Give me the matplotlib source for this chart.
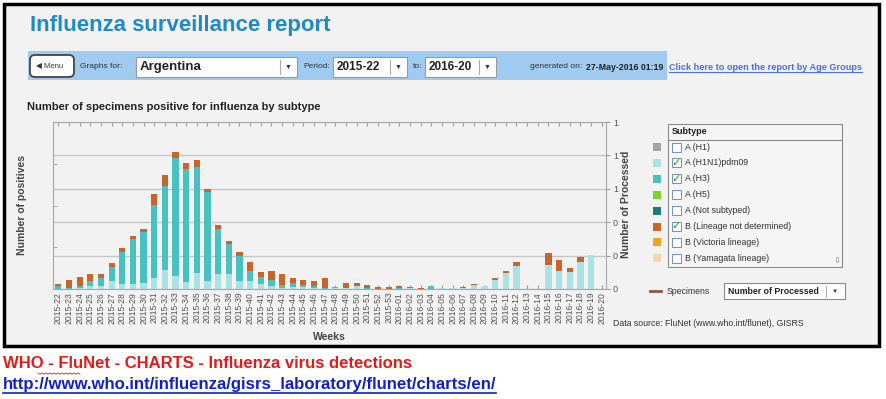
import numpy as np
import matplotlib.pyplot as plt
from matplotlib.patches import Rectangle, FancyBboxPatch
from matplotlib.ticker import FixedLocator
from matplotlib import font_manager

# weekly counts, in units of the chart's gridline spacing (axis numbers are cut off)
weeks = ['2015-%02d' % w for w in range(22, 54)] + ['2016-%02d' % w for w in range(1, 21)]
h1n1pdm09 = [0.01, 0.00, 0.03, 0.08, 0.08, 0.25, 0.15, 0.15, 0.17, 0.33,
             0.58, 0.40, 0.20, 0.47, 0.25, 0.45, 0.45, 0.25, 0.25, 0.15,
             0.10, 0.03, 0.07, 0.06, 0.03, 0.00, 0.02, 0.02, 0.08, 0.00,
             0.00, 0.00, 0.00, 0.02, 0.00, 0.00, 0.02, 0.03, 0.02, 0.11,
             0.10, 0.26, 0.47, 0.70, 0.00, 0.00, 0.73, 0.55, 0.52, 0.80,
             1.02, 0.00]
h3 = [0.07, 0.03, 0.07, 0.17, 0.25, 0.42, 0.97, 1.35, 1.55, 2.19,
      2.50, 3.52, 3.38, 3.18, 2.65, 1.35, 0.89, 0.73, 0.28, 0.22,
      0.17, 0.09, 0.10, 0.07, 0.05, 0.02, 0.03, 0.01, 0.00, 0.02,
      0.01, 0.01, 0.02, 0.00, 0.00, 0.10, 0.00, 0.00, 0.00, 0.00,
      0.00, 0.00, 0.00, 0.00, 0.00, 0.00, 0.00, 0.00, 0.00, 0.00,
      0.00, 0.00]
b_not_determined = [0.07, 0.24, 0.27, 0.20, 0.12, 0.10, 0.10, 0.08, 0.08, 0.33,
                    0.32, 0.18, 0.18, 0.20, 0.08, 0.12, 0.11, 0.12, 0.27, 0.13,
                    0.28, 0.33, 0.16, 0.15, 0.15, 0.30, 0.02, 0.15, 0.10, 0.10,
                    0.05, 0.05, 0.08, 0.03, 0.03, 0.00, 0.00, 0.00, 0.03, 0.04,
                    0.00, 0.06, 0.08, 0.12, 0.00, 0.00, 0.35, 0.32, 0.11, 0.15,
                    0.00, 0.00]
right_tick_labels = ['0', '0', '0', '1', '1', '1']

subtypes = ['A (H1)', 'A (H1N1)pdm09', 'A (H3)', 'A (H5)', 'A (Not subtyped)',
            'B (Lineage not determined)', 'B (Victoria lineage)', 'B (Yamagata lineage)']
subtype_colors = ['#a3a3a3', '#a9e2e2', '#47c2c0', '#7fd12c', '#1d7b7b',
                  '#c8652b', '#f0a11f', '#f4d6ad']
checked = [False, True, True, False, False, True, False, False]

names = [f.name for f in font_manager.fontManager.ttflist]
narrow = 'Liberation Sans Narrow' if 'Liberation Sans Narrow' in names else 'Liberation Sans'
plt.rcParams['font.family'] = ['Liberation Sans', 'DejaVu Sans']

W, H = 887, 399
fig = plt.figure(figsize=(W / 100, H / 100), dpi=100)
fig.patch.set_facecolor('white')

# overlay in pixel coordinates for the page decoration
ov = fig.add_axes([0, 0, 1, 1], zorder=0)
ov.set_xlim(0, W)
ov.set_ylim(H, 0)
ov.axis('off')

ov.add_patch(Rectangle((4, 4), 875, 342, fc='#f2f2f2', ec='black', lw=2.5))
ov.text(30, 25, 'Influenza surveillance report', fontsize=16, fontweight='bold',
        color='#1f8ac6', va='center', family=[narrow, 'DejaVu Sans'])

# toolbar
ov.add_patch(Rectangle((28, 51), 639, 29, fc='#9fcbf0', ec='none'))
ov.add_patch(FancyBboxPatch((30, 55), 44, 22, boxstyle='round,pad=0,rounding_size=5',
                            fc='white', ec='#444444', lw=1.3))
ov.text(36, 66.5, '◀ Menu', fontsize=5.5, color='#333333', va='center')
ov.text(80, 66.5, 'Graphs for:', fontsize=6, color='#333333', va='center')


def dropdown(x0, x1, label, size):
    ov.add_patch(Rectangle((x0, 57), x1 - x0, 20, fc='white', ec='#9a9a9a', lw=0.8))
    ov.plot([x1 - 17, x1 - 17], [60, 74], color='#aaaaaa', lw=0.8)
    ov.text(x1 - 8.5, 67, '▼', fontsize=5, ha='center', va='center', color='#333333')
    ov.text(x0 + 4, 67, label, fontsize=size, fontweight='bold', va='center', color='#222222')


dropdown(136, 297, 'Argentina', 9.5)
ov.text(303, 66.5, 'Period:', fontsize=6, color='#333333', va='center')
dropdown(333, 407, '2015-22', 8.5)
ov.text(413, 66.5, 'to:', fontsize=6, color='#333333', va='center')
dropdown(425, 496, '2016-20', 8.5)
ov.text(530, 67, 'generated on:', fontsize=6, color='#333333', va='center')
ov.text(586, 67, '27-May-2016 01:19', fontsize=6.3, fontweight='bold', color='#222222', va='center')
link = ov.text(669, 67, 'Click here to open the report by Age Groups', fontsize=6.6,
               fontweight='bold', color='#4a6ee0', va='center')

ov.text(27, 107, 'Number of specimens positive for influenza by subtype', fontsize=8,
        fontweight='bold', color='#222222', va='center')
ov.text(22, 205, 'Number of positives', fontsize=7.5, fontweight='bold', color='#444444',
        rotation=90, ha='center', va='center')
ov.text(626, 204, 'Number of Processed', fontsize=7.5, fontweight='bold', color='#444444',
        rotation=90, ha='center', va='center')
ov.text(329, 337, 'Weeks', fontsize=7.5, fontweight='bold', color='#444444', ha='center', va='center')
ov.text(613, 324, 'Data source: FluNet (www.who.int/flunet), GISRS', fontsize=6.3,
        color='#333333', va='center')

# subtype legend panel
ov.add_patch(Rectangle((668, 124), 174, 143, fc='#f5f5f5', ec='#8a8a8a', lw=0.8))
ov.plot([668, 842], [140, 140], color='#8a8a8a', lw=0.8)
ov.text(672, 132, 'Subtype', fontsize=6.5, fontweight='bold', color='#222222', va='center')
for k, (name, col, on) in enumerate(zip(subtypes, subtype_colors, checked)):
    y = 147 + 15.9 * k
    ov.add_patch(Rectangle((653, y - 4), 8, 8, fc=col, ec='none'))
    ov.add_patch(Rectangle((672, y - 4.5), 9, 9, fc='white', ec='#6f8fbf', lw=0.7))
    if on:
        ov.text(676.5, y, '✓', fontsize=8, color='#1e9e1e', ha='center', va='center',
                fontweight='bold', family=['DejaVu Sans'])
    ov.text(685, y, name, fontsize=6.3, color='#333333', va='center')
ov.text(837, 261, '⇩', fontsize=6, color='#777777', ha='center', va='center', family=['DejaVu Sans'])

ov.plot([650, 661], [291, 291], color='#8b5a3c', lw=2)
ov.text(667, 291, 'Specimens', fontsize=6.3, color='#333333', va='center')
ov.add_patch(Rectangle((724, 283), 121, 16, fc='white', ec='#8a8a8a', lw=0.8))
ov.plot([826, 826], [285.5, 296.5], color='#aaaaaa', lw=0.8)
ov.text(835, 291, '▼', fontsize=4.5, ha='center', va='center', color='#333333')
ov.text(728, 291, 'Number of Processed', fontsize=6.3, fontweight='bold', color='#222222', va='center')

# caption under the screenshot
ov.text(3, 364, 'WHO - FluNet - CHARTS - Influenza virus detections', fontsize=12,
        fontweight='bold', color='#e41a1a', va='center', family=[narrow, 'DejaVu Sans'])
url = ov.text(3, 385, 'http://www.who.int/influenza/gisrs_laboratory/flunet/charts/en/',
              fontsize=12.1, fontweight='bold', color='#1020c8', va='center',
              family=[narrow, 'DejaVu Sans'])
sx = np.linspace(38, 80, 22)
ov.plot(sx, 373 + 1.2 * (np.arange(22) % 2), color='#e41a1a', lw=0.6)

# chart
ax = fig.add_axes([53 / W, 1 - 289 / H, 553 / W, 167 / H], zorder=1)
ax.set_facecolor('#f2f2f2')
x = np.arange(len(weeks))
low = np.array(h1n1pdm09)
mid = np.array(h3)
ax.bar(x, low, width=0.58, color=subtype_colors[1])
ax.bar(x, mid, width=0.58, bottom=low, color=subtype_colors[2])
ax.bar(x, b_not_determined, width=0.58, bottom=low + mid, color=subtype_colors[5])
ax.set_xlim(-0.5, 51.4)
ax.set_ylim(0, 5)
ax.set_xticks(x)
ax.set_xticklabels(weeks, rotation=90, fontsize=6.2, color='#555555')
ax.tick_params(axis='x', direction='in', length=3, top=True, color='#9a9a9a', pad=2)
ax.set_yticks(range(6))
ax.set_yticklabels(right_tick_labels)
ax.yaxis.tick_right()
ax.tick_params(axis='y', length=3, color='#9a9a9a', labelsize=6.5, labelcolor='#555555', pad=2)
# unlabeled left-axis ticks (its own scale, 4 steps over the height)
ax.yaxis.set_minor_locator(FixedLocator([1.25, 2.5, 3.75]))
ax.tick_params(axis='y', which='minor', left=True, right=False, labelleft=False,
               labelright=False, direction='in', length=3, color='#9a9a9a')
ax.grid(axis='y', which='major', color='#c6c6c6', lw=1)
ax.set_axisbelow(True)
for s in ax.spines.values():
    s.set_color('#a8a8a8')
    s.set_linewidth(0.8)

# underline the two links
fig.canvas.draw()
r = fig.canvas.get_renderer()
for t, c, lw in [(link, '#4a6ee0', 0.8), (url, '#1020c8', 1.2)]:
    bb = t.get_window_extent(r)
    ov.plot([bb.x0, bb.x1], [H - bb.y0 + 0.5, H - bb.y0 + 0.5], color=c, lw=lw)

fig.savefig('out.png', dpi=100)
